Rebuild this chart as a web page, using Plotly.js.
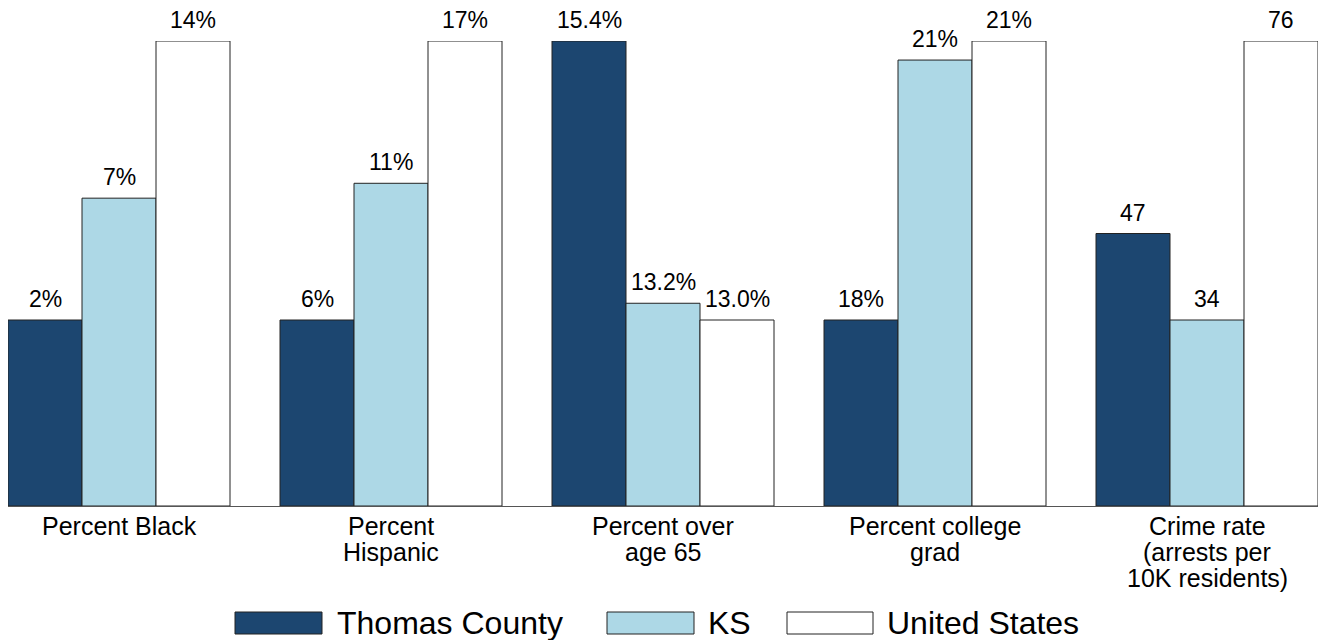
<!DOCTYPE html>
<html>
<head>
<meta charset="utf-8">
<script src="https://cdn.plot.ly/plotly-3.0.1.min.js"></script>
<style>html,body{margin:0;padding:0;background:#fff;}#chart{width:1320px;height:640px;}</style>
</head>
<body>
<div id="chart"></div>
<script>
// ---- Data ----
const categories = ['Percent Black', 'Percent Hispanic', 'Percent over age 65', 'Percent college grad', 'Crime rate (arrests per 10K residents)'];
const tickLines = [
  ['Percent Black'],
  ['Percent', 'Hispanic'],
  ['Percent over', 'age 65'],
  ['Percent college', 'grad'],
  ['Crime rate', '(arrests per', '10K residents)']
];
const seriesNames = ['Thomas County', 'KS', 'United States'];
// relative bar heights (each group scaled to its largest value = 100)
const thomasHeight = [40, 40, 100, 40, 58.6];
const ksHeight = [66.2, 69.4, 43.6, 95.9, 40];
const usHeight = [100, 100, 40, 100, 100];
// value labels shown above the bars
const thomasLabels = ['2%', '6%', '15.4%', '18%', '47'];
const ksLabels = ['7%', '11%', '13.2%', '21%', '34'];
const usLabels = ['14%', '17%', '13.0%', '21%', '76'];

// ---- Style ----
const FONT = 'Liberation Sans, Arial, Helvetica, sans-serif';
const colors = ['#1c4670', '#add8e6', '#ffffff'];
const W = 1320, H = 640;
const M = {l: 8, r: 2, t: 41, b: 134};
const plotW = W - M.l - M.r, plotH = H - M.t - M.b;
const px2x = px => (px - M.l) / plotW;
const py2y = py => (H - M.b - py) / plotH;
const BARGAP = 50 / 272;
const XRANGE = [-111 / 272, 4 + 111 / 272];
// pixel width of one bar, derived from the axis range and bar gap
const barPx = plotW / (XRANGE[1] - XRANGE[0]) * (1 - BARGAP) / seriesNames.length;

const heights = [thomasHeight, ksHeight, usHeight];
const labels = [thomasLabels, ksLabels, usLabels];

const traces = seriesNames.map((name, k) => ({
  type: 'bar',
  name: name,
  x: categories,
  y: heights[k],
  marker: {color: colors[k], line: {color: '#222', width: 1}},
  hoverinfo: 'skip'
}));

const annotations = [];
// value labels above each bar
seriesNames.forEach((name, k) => {
  categories.forEach((c, i) => {
    annotations.push({
      x: c, y: heights[k][i], xref: 'x', yref: 'y',
      text: labels[k][i], showarrow: false,
      xanchor: 'center', yanchor: 'bottom',
      xshift: (k - (seriesNames.length - 1) / 2) * barPx,
      yshift: 6,
      font: {family: FONT, size: 23, color: '#000'}
    });
  });
});

// category labels (tight line spacing)
tickLines.forEach((lines, i) => {
  lines.forEach((t, j) => {
    annotations.push({
      x: categories[i], y: 0, xref: 'x', yref: 'y',
      text: t, showarrow: false, xanchor: 'center', yanchor: 'top',
      yshift: -(4 + j * 26),
      font: {family: FONT, size: 25, color: '#000'}
    });
  });
});

// custom legend
const legendSw = [[235, 322], [607, 694], [787, 873]];
const legendTx = [337, 708, 887];
const shapes = [];
seriesNames.forEach((name, k) => {
  shapes.push({
    type: 'rect', xref: 'paper', yref: 'paper',
    x0: px2x(legendSw[k][0]), x1: px2x(legendSw[k][1]),
    y0: py2y(634), y1: py2y(612),
    fillcolor: colors[k], line: {color: '#222', width: 1}
  });
  annotations.push({
    x: px2x(legendTx[k] - 2), y: py2y(623), xref: 'paper', yref: 'paper',
    text: name, showarrow: false, xanchor: 'left', yanchor: 'middle',
    font: {family: FONT, size: 32, color: '#000'}
  });
});

const layout = {
  width: W, height: H,
  margin: {l: M.l, r: M.r, t: M.t, b: M.b, pad: 0},
  paper_bgcolor: '#fff', plot_bgcolor: '#fff',
  barmode: 'group', bargap: BARGAP, bargroupgap: 0,
  showlegend: false,
  xaxis: {
    type: 'category', range: XRANGE,
    showticklabels: false, ticks: '', showgrid: false, zeroline: false,
    showline: true, linecolor: '#555', linewidth: 1, fixedrange: true
  },
  yaxis: {
    range: [0, 100], visible: false, showgrid: false, zeroline: false, fixedrange: true
  },
  annotations: annotations,
  shapes: shapes,
  font: {family: FONT, color: '#000'}
};

Plotly.newPlot('chart', traces, layout, {displayModeBar: false, staticPlot: true});
</script>
</body>
</html>
